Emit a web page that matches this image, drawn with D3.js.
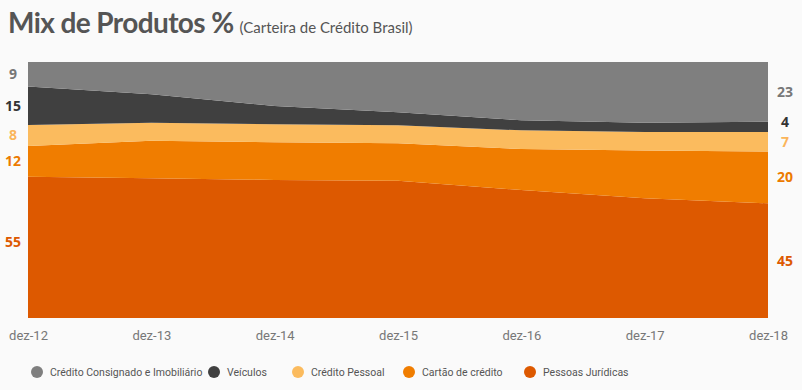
<!DOCTYPE html>
<html>
<head>
<meta charset="utf-8">
<script src="https://cdn.jsdelivr.net/npm/d3@7"></script>
<style>
  body { margin: 0; background: #fafafa; }
  svg { display: block; font-family: "Open Sans", "DejaVu Sans", sans-serif; }
</style>
</head>
<body>
<div id="chart"></div>
<script>
var anos = ["dez-12", "dez-13", "dez-14", "dez-15", "dez-16", "dez-17", "dez-18"];
var consignado = [9.6, 12.6, 17.2, 19.6, 22.8, 23.7, 23.3];
var veiculos = [15.0, 11.1, 7.1, 5.1, 3.9, 3.6, 4.0];
var pessoal = [8.2, 7.1, 7.0, 7.0, 7.3, 7.3, 7.7];
var cartao = [12.0, 14.6, 14.7, 14.6, 16.0, 18.6, 20.2];
var juridicas = [55.2, 54.6, 53.9, 53.6, 50.0, 46.8, 44.8];

var series = ["Pessoas Jurídicas", "Cartão de crédito", "Crédito Pessoal", "Veículos", "Crédito Consignado e Imobiliário"];
var labelsInicio = ["55", "12", "8", "15", "9"];
var labelsFim = ["45", "20", "7", "4", "23"];
var legendaOrdem = ["Crédito Consignado e Imobiliário", "Veículos", "Crédito Pessoal", "Cartão de crédito", "Pessoas Jurídicas"];

var colors = {
    "Pessoas Jurídicas": "#dd5900",
    "Cartão de crédito": "#f07d00",
    "Crédito Pessoal": "#fbbb5e",
    "Veículos": "#404040",
    "Crédito Consignado e Imobiliário": "#7f7f7f"
};
var labelColors = {
    "Pessoas Jurídicas": "#dd5900",
    "Cartão de crédito": "#ec7a00",
    "Crédito Pessoal": "#fbb55a",
    "Veículos": "#333333",
    "Crédito Consignado e Imobiliário": "#777777"
};

var table = anos.map(function(a, i) {
    var row = { ano: a };
    row["Pessoas Jurídicas"] = juridicas[i];
    row["Cartão de crédito"] = cartao[i];
    row["Crédito Pessoal"] = pessoal[i];
    row["Veículos"] = veiculos[i];
    row["Crédito Consignado e Imobiliário"] = consignado[i];
    return row;
});

var width = 802,
    height = 390,
    margin = { top: 62, right: 34, bottom: 72, left: 28 };

var svg = d3.select("#chart").append("svg")
    .attr("width", width)
    .attr("height", height);

var x = d3.scalePoint()
    .domain(anos)
    .range([margin.left, width - margin.right]);

var y = d3.scaleLinear()
    .domain([0, 1])
    .range([height - margin.bottom, margin.top]);

var stack = d3.stack()
    .keys(series)
    .offset(d3.stackOffsetExpand);

var layers = stack(table);

var area = d3.area()
    .x(function(d) { return x(d.data.ano); })
    .y0(function(d) { return y(d[0]); })
    .y1(function(d) { return y(d[1]); });

svg.append("g").selectAll("path")
    .data(layers)
  .enter().append("path")
    .attr("d", area)
    .attr("fill", function(d) { return colors[d.key]; });

// rótulos de valor no inicio e no fim
var last = anos.length - 1;
svg.append("g").selectAll("text")
    .data(layers)
  .enter().append("text")
    .attr("x", 13)
    .attr("y", function(d) { return y((d[0][0] + d[0][1]) / 2); })
    .attr("dy", function(d) { return d.key === "Pessoas Jurídicas" ? "0" : "0.35em"; })
    .attr("text-anchor", "middle")
    .style("font-size", "14px")
    .style("font-weight", "700")
    .attr("fill", function(d) { return labelColors[d.key]; })
    .text(function(d, i) { return labelsInicio[i]; });

svg.append("g").selectAll("text")
    .data(layers)
  .enter().append("text")
    .attr("x", 785)
    .attr("y", function(d) { return y((d[last][0] + d[last][1]) / 2); })
    .attr("dy", function(d) { return d.key === "Veículos" ? "0" : "0.35em"; })
    .attr("text-anchor", "middle")
    .style("font-size", "14px")
    .style("font-weight", "700")
    .attr("fill", function(d) { return labelColors[d.key]; })
    .text(function(d, i) { return labelsFim[i]; });

// eixo x
var xAxis = svg.append("g")
    .attr("transform", "translate(0," + (height - margin.bottom) + ")")
    .call(d3.axisBottom(x).tickSize(0).tickPadding(13));
xAxis.select(".domain").remove();
xAxis.selectAll("text")
    .style("font-family", "'Liberation Sans Narrow', 'Roboto', sans-serif")
    .style("font-size", "13px")
    .attr("fill", "#777");

// titulo
var title = svg.append("text")
    .attr("x", 8)
    .attr("y", 33)
    .attr("fill", "#555")
    .style("font-family", "Lato, 'Open Sans', sans-serif");
title.append("tspan")
    .style("font-size", "28px")
    .style("font-weight", "700")
    .style("letter-spacing", "-0.6px")
    .text("Mix de Produtos %");
title.append("tspan")
    .attr("dx", 6)
    .style("font-size", "15px")
    .text("(Carteira de Crédito Brasil)");

// legenda
var legendX = [37, 214, 298, 409, 530];
var legend = svg.append("g").selectAll("g")
    .data(legendaOrdem)
  .enter().append("g")
    .attr("transform", function(d, i) { return "translate(" + legendX[i] + ",372)"; });

legend.append("circle")
    .attr("r", 6)
    .attr("fill", function(d) { return colors[d]; });

legend.append("text")
    .attr("x", 13)
    .attr("dy", "0.35em")
    .style("font-family", "'Liberation Sans Narrow', 'Roboto', sans-serif")
    .style("font-size", "10.5px")
    .attr("fill", "#555")
    .text(function(d) { return d; });
</script>
</body>
</html>
